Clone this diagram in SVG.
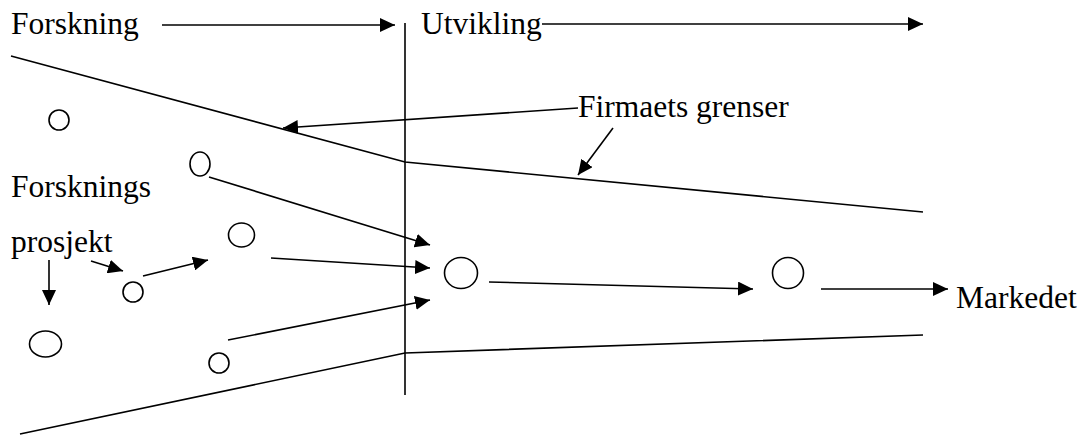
<svg xmlns="http://www.w3.org/2000/svg" width="1082" height="435" viewBox="0 0 1082 435">
<style>
text{font-family:"Liberation Serif","Times New Roman",serif;font-size:31.5px;fill:#000}
.ln{stroke:#000;stroke-width:1.6;fill:none}
.ar{stroke:#000;stroke-width:1.6;fill:none;marker-end:url(#ah)}
.nd{stroke:#000;stroke-width:1.6;fill:#fff}
</style>
<defs>
<marker id="ah" markerUnits="userSpaceOnUse" viewBox="0 0 15 14" markerWidth="15" markerHeight="14" refX="15" refY="7" orient="auto">
<path d="M0,0 L15,7 L0,14 Z" fill="#000"/>
</marker>
</defs>
<rect width="1082" height="435" fill="#fff"/>
<g id="labels">
<text x="11" y="34">Forskning</text>
<text x="421" y="34">Utvikling</text>
<text x="578" y="117">Firmaets grenser</text>
<text x="11" y="197">Forsknings</text>
<text x="11" y="252">prosjekt</text>
<text x="956" y="308">Markedet</text>
</g>
<g id="boundaries">
<line class="ln" x1="405" y1="23" x2="405" y2="395"/>
<polyline class="ln" points="11,56 405,162 923,212"/>
<polyline class="ln" points="20,434 405,353 923,335"/>
</g>
<g id="nodes">
<ellipse id="n1" class="nd" cx="59" cy="120" rx="10" ry="10"/>
<ellipse id="n2" class="nd" cx="200" cy="164" rx="10" ry="12"/>
<ellipse id="n3" class="nd" cx="241.5" cy="235" rx="13" ry="12"/>
<ellipse id="n4" class="nd" cx="133" cy="292" rx="10" ry="10"/>
<ellipse id="n5" class="nd" cx="45.5" cy="344" rx="16" ry="13"/>
<ellipse id="n6" class="nd" cx="219" cy="363" rx="10" ry="10"/>
<ellipse id="n7" class="nd" cx="461" cy="273" rx="16.5" ry="15.5"/>
<ellipse id="n8" class="nd" cx="788" cy="273" rx="15.5" ry="15.5"/>
</g>
<g id="connectors">
<line class="ar" x1="162" y1="25" x2="395" y2="25"/>
<line class="ar" x1="542" y1="24" x2="923" y2="24"/>
<line class="ar" x1="578" y1="108" x2="283" y2="128"/>
<line class="ar" x1="613" y1="128" x2="578" y2="175"/>
<line class="ar" x1="209" y1="177" x2="430" y2="245"/>
<line class="ar" x1="271" y1="258" x2="430" y2="268"/>
<line class="ar" x1="228" y1="340" x2="430" y2="300"/>
<line class="ar" x1="49" y1="260" x2="49" y2="305"/>
<line class="ar" x1="91" y1="261" x2="123" y2="271"/>
<line class="ar" x1="143" y1="276" x2="208" y2="260"/>
<line class="ar" x1="489" y1="282" x2="753" y2="289"/>
<line class="ar" x1="821" y1="289" x2="948" y2="289"/>
</g>
</svg>
